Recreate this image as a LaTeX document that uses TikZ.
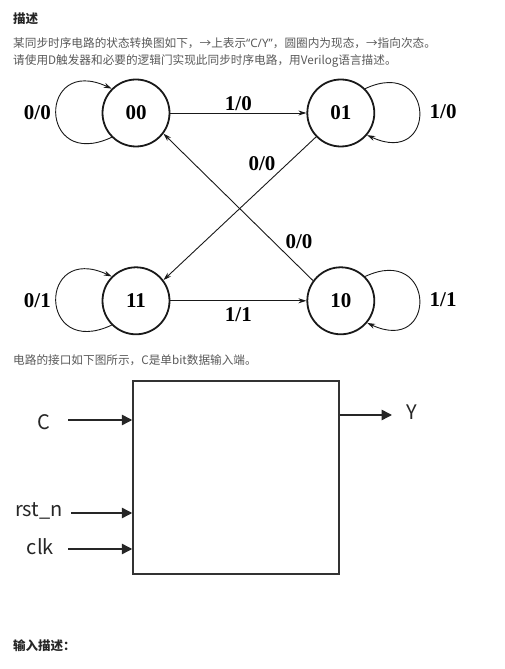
\documentclass[tikz,border=0pt]{standalone}
\usepackage{fontspec}
\setmainfont{Liberation Serif}
\newfontfamily\cjk{Noto Sans CJK SC}
\newfontfamily\latinsans{Noto Sans}
\usetikzlibrary{shapes, arrows.meta, positioning}
\tikzstyle{state} = [circle, draw=black!90, line width=1.8pt, minimum size=67pt, inner sep=0pt, font=\fontsize{21}{21}\selectfont\bfseries]
\tikzstyle{line} = [draw=black!90, line width=0.9pt, -{Stealth[length=8pt,width=5pt]}]
\tikzstyle{trans} = [inner sep=2pt, font=\fontsize{21}{21}\selectfont\bfseries]
\tikzstyle{port} = [draw=black!85, line width=1.5pt, -{Triangle[length=10.5pt,width=10.5pt]}]
\tikzstyle{pin} = [inner sep=0pt, text=black!85, font=\cjk\fontsize{20}{20}\selectfont]
\tikzstyle{desc} = [anchor=west, inner sep=0pt, text=black!65, font=\cjk\fontsize{11.65}{11.65}\selectfont]

\begin{document}
\begin{tikzpicture}[x=1pt, y=1pt]
        \useasboundingbox (0,0) rectangle (505,669);

        % text above the diagram
        \node[desc, text=black!85, font=\cjk\bfseries\fontsize{12.5}{12.5}\selectfont] (title) at (13,650.5) {描述};
        \node[desc] (txt1) at (13,626) {某同步时序电路的状态转换图如下，→上表示{\latinsans “C/Y”}，圆圈内为现态，→指向次态。};
        \node[desc] (txt2) at (13,608) {请使用D触发器和必要的逻辑门实现此同步时序电路，用Verilog语言描述。};

        % state diagram
        \node[state] (s00) at (136,556) {00};

        \node[state, right=136pt of s00] (s01) {01};

        \node[state, below=119pt of s00] (s11) {11};

        \node[state, right=136pt of s11] (s10) {10};

        \path[line] (s00) -- node[trans, above] {1/0} (s01);
        \path[line] (s11) -- node[trans, below=4pt] {1/1} (s10);
        \path[line] (s01.224) -- node[trans, pos=0.25, above left] {0/0} (s11.37);
        \path[line] (s10.144) -- node[trans, pos=0.2, above right] {0/0} (s00.-37);

        \path[line] (s00.225) to[out=205, in=155, looseness=4.3] node[trans, left=3pt] {0/0} (s00.135);
        \path[line] (s11.225) to[out=205, in=155, looseness=4.3] node[trans, left=3pt] {0/1} (s11.135);
        \path[line] (s01.45) to[out=25, in=-25, looseness=4.3] node[trans, right=8pt] {1/0} (s01.-40);
        \path[line] (s10.45) to[out=25, in=-25, looseness=4.3] node[trans, right=8pt] {1/1} (s10.-40);

        % interface
        \node[desc] (txt3) at (13,309) {电路的接口如下图所示，C是单bit数据输入端。};

        \node[draw=black!80, line width=1.5pt, minimum width=206pt, minimum height=193pt] (box) at (236,191.5) {};

        \coordinate (cin) at (68,249);
        \coordinate (rin) at (71,156);
        \coordinate (kin) at (68,120);
        \coordinate (yout) at (392,254);

        \path[port] (cin) -- (cin -| box.west);
        \path[port] (rin) -- (rin -| box.west);
        \path[port] (kin) -- (kin -| box.west);
        \path[port] (box.east |- yout) -- (yout);

        \node[pin, left=18pt of cin, yshift=-2pt] (c) {C};
        \node[pin, left=8pt of rin, yshift=2pt] (rst) {rst\_n};
        \node[pin, left=14pt of kin, yshift=2pt] (clk) {clk};
        \node[pin, right=14pt of yout, yshift=3pt] (y) {Y};

        \node[desc, text=black!85, font=\cjk\bfseries\fontsize{12.5}{12.5}\selectfont] (txt4) at (13,23) {输入描述：};
\end{tikzpicture}
\end{document}
